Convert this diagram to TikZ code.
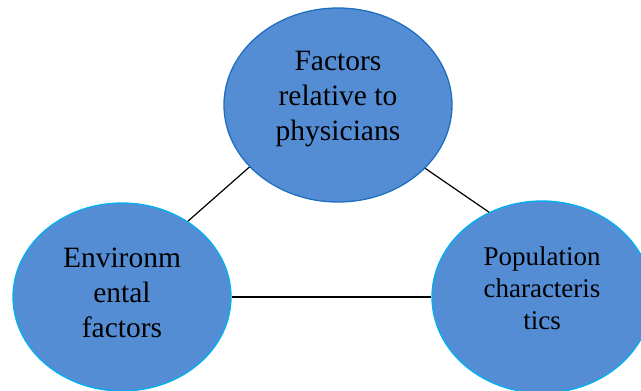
\documentclass[tikz,border=0pt]{standalone}
\usepackage{fontspec}
\setmainfont{Liberation Serif}
\usetikzlibrary{shapes.geometric}
\definecolor{bubblefill}{HTML}{558DD5}
\definecolor{topedge}{HTML}{1E6FC0}
\definecolor{sideedge}{HTML}{00B0F0}
\begin{document}
\begin{tikzpicture}[x=1pt,y=-1pt,
  bubble/.style={ellipse,fill=bubblefill,inner sep=0pt,line width=1.3pt},
  label/.style={align=center,inner sep=0pt,text=black},
  link/.style={draw=black,line width=1.2pt}]
\useasboundingbox (0,0) rectangle (641,391);
% the three bubbles
\node[bubble,draw=topedge,minimum width=228pt,minimum height=194pt] (phys) at (338,105) {};
\node[bubble,draw=sideedge,minimum width=218pt,minimum height=188pt] (env) at (122,297) {};
\node[bubble,draw=sideedge,minimum width=220pt,minimum height=192pt] (pop) at (542,297) {};
% their texts
\node[label,font=\fontsize{29.5}{35}\selectfont] (physt) at (338,99) {Factors\\relative to\\physicians};
\node[label,font=\fontsize{29.5}{35}\selectfont] (envt) at (122,293) {Environm\\ental\\factors};
\node[label,font=\fontsize{27}{32}\selectfont] (popt) at (542,288) {Population\\characteris\\tics};
% links between them
\draw[link] (phys.215.8) -- (env.49.6);
\draw[link] (phys.324.8) -- (pop.122);
\draw[link] (env.east) -- (pop.west);
\end{tikzpicture}
\end{document}
